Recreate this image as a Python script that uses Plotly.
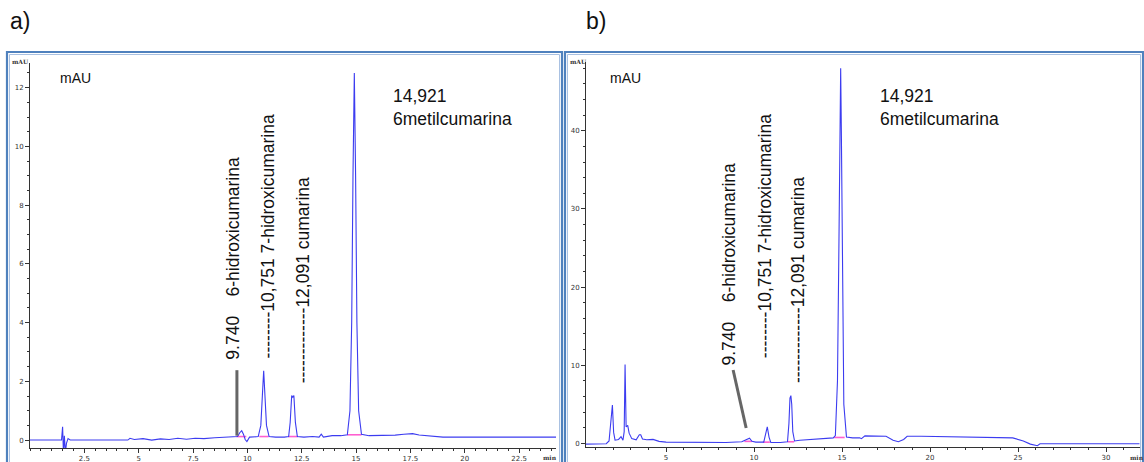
import plotly.graph_objects as go

W, H = 1144, 462

# ---- chromatogram a): retention time (min) vs absorbance (mAU) ----
time_a = [0.0, 1.45, 1.50, 1.54, 1.58, 1.63, 1.68, 1.75, 1.85, 2.0, 4.5, 4.6, 4.8,
          5.2, 5.6, 6.0, 6.4, 6.8, 7.2, 7.6, 8.0, 8.5, 9.0, 9.5, 9.55, 9.65, 9.74,
          9.82, 9.9, 9.98, 10.1, 10.5, 10.62, 10.69, 10.751, 10.81, 10.88, 11.0,
          11.3, 11.7, 11.9, 11.97, 12.04, 12.091, 12.14, 12.21, 12.3, 12.6, 13.0,
          13.3, 13.4, 13.5, 13.9, 14.3, 14.6, 14.72, 14.80, 14.86, 14.921, 14.98,
          15.04, 15.12, 15.25, 15.6, 16.2, 16.8, 17.2, 17.6, 17.9, 18.2, 18.6,
          19.0, 20.0, 21.0, 24.2]
signal_a = [0.0, 0.0, 0.45, -0.45, 0.15, -0.4, -0.1, 0.05, 0.0, 0.0, 0.0, 0.06, 0.02,
            0.05, 0.0, 0.04, 0.02, 0.06, 0.03, 0.06, 0.05, 0.08, 0.1, 0.12, 0.12,
            0.25, 0.32, 0.2, 0.02, -0.05, 0.1, 0.12, 0.5, 1.5, 2.36, 1.5, 0.5, 0.12,
            0.1, 0.1, 0.12, 0.6, 1.52, 1.46, 1.52, 0.6, 0.12, 0.1, 0.12, 0.1, 0.2,
            0.1, 0.15, 0.15, 0.18, 1.0, 4.0, 9.0, 12.5, 9.0, 4.0, 1.0, 0.2, 0.15,
            0.15, 0.17, 0.2, 0.22, 0.17, 0.15, 0.12, 0.1, 0.1, 0.1, 0.1]

# ---- chromatogram b) ----
time_b = [0.45, 1.6, 1.76, 1.86, 1.95, 2.02, 2.1, 2.3, 2.44, 2.55, 2.62, 2.67,
          2.73, 2.82, 2.9, 3.05, 3.3, 3.48, 3.56, 3.66, 3.9, 4.26, 4.6, 5.0, 6.5,
          8.4, 9.3, 9.6, 9.74, 9.88, 10.1, 10.55, 10.65, 10.751, 10.85, 10.95,
          11.5, 11.9, 11.98, 12.04, 12.091, 12.14, 12.2, 12.3, 12.6, 13.5, 14.5,
          14.62, 14.74, 14.82, 14.88, 14.921, 14.96, 15.02, 15.1, 15.25, 15.6, 16.0,
          16.1, 16.3, 17.0, 17.5, 17.9, 18.2, 18.5, 18.7, 19.5, 21.1, 23.0, 24.7,
          25.3, 25.7, 26.1, 26.25, 28.0, 31.9]
signal_b = [-0.1, -0.05, 0.3, 2.6, 4.9, 1.4, 0.4, 0.5, 0.85, 0.4, 1.5, 10.1, 2.1,
            2.3, 1.3, 0.6, 0.45, 1.1, 1.1, 0.55, 0.45, 0.5, 0.25, 0.15, 0.1, 0.1,
            0.2, 0.5, 0.65, 0.25, 0.15, 0.15, 1.0, 2.1, 0.8, 0.12, 0.1, 0.2, 2.5,
            5.8, 6.1, 5.0, 1.5, 0.3, 0.4, 0.5, 0.7, 1.0, 8.0, 25.0, 40.0, 48.0,
            40.0, 20.0, 5.0, 0.8, 0.7, 0.7, 0.6, 0.95, 0.95, 0.9, 0.4, 0.2, 0.5,
            0.9, 0.9, 0.85, 0.75, 0.7, 0.3, -0.1, -0.3, -0.05, -0.05, -0.05]

# integration baselines drawn under the identified peaks (start, end in min)
base_a_start = [9.50, 10.55, 11.88, 14.60]
base_a_end = [9.95, 10.98, 12.32, 15.25]
base_a_level = [0.12, 0.12, 0.12, 0.18]
base_b_start = [9.45, 10.50, 11.92, 14.55]
base_b_end = [9.90, 10.90, 12.28, 15.15]
base_b_level = [0.25, 0.15, 0.2, 0.75]

# peak identification labels (retention time + compound)
peak_rt = [9.740, 10.751, 12.091, 14.921]
label_9740 = "9.740\u00a0\u00a0\u00a0\u00a06-hidroxicumarina"
label_10751 = "--------10,751 7-hidroxicumarina"
label_12091 = "-------------12,091 cumarina"
label_14921 = "14,921<br>6metilcumarina"

# axis ticks
xticks_a = [2.5, 5, 7.5, 10, 12.5, 15, 17.5, 20, 22.5]
yticks_a = [0, 2, 4, 6, 8, 10, 12]
xticks_b = [5, 10, 15, 20, 25, 30]
yticks_b = [0, 10, 20, 30, 40]

LINE = "#3c3cf0"
PINK = "#ff5fd0"
BORDER = "#4f81bd"
FONT = "Liberation Sans, Arial, sans-serif"


def px_x(p):
    return p / W


def px_y(p):
    return 1 - p / H


def segments(starts, ends, levels):
    xs, ys = [], []
    for s, e, l in zip(starts, ends, levels):
        xs += [s, e, None]
        ys += [l, l, None]
    return xs, ys


fig = go.Figure()

pa_x, pa_y = segments(base_a_start, base_a_end, base_a_level)
pb_x, pb_y = segments(base_b_start, base_b_end, base_b_level)

fig.add_trace(go.Scatter(x=pa_x, y=pa_y, mode="lines", xaxis="x", yaxis="y",
                         line=dict(color=PINK, width=1.6), hoverinfo="skip"))
fig.add_trace(go.Scatter(x=time_a, y=signal_a, mode="lines", xaxis="x", yaxis="y",
                         line=dict(color=LINE, width=1.1)))
fig.add_trace(go.Scatter(x=pb_x, y=pb_y, mode="lines", xaxis="x2", yaxis="y2",
                         line=dict(color=PINK, width=1.6), hoverinfo="skip"))
fig.add_trace(go.Scatter(x=time_b, y=signal_b, mode="lines", xaxis="x2", yaxis="y2",
                         line=dict(color=LINE, width=1.1)))

tickfont = dict(family="DejaVu Sans, sans-serif", size=7, color="#333333")


def xaxis(domain, rng, ticks, minor):
    return dict(domain=domain, range=rng, anchor=None, showgrid=False, zeroline=False,
                showline=True, linecolor="#333333", linewidth=1,
                tickmode="array", tickvals=ticks, ticktext=[f"{t:g}" for t in ticks],
                ticks="outside", ticklen=4, tickcolor="#333333", tickfont=tickfont,
                minor=dict(dtick=minor, ticks="outside", ticklen=2, tickcolor="#333333"))


def yaxis(domain, rng, ticks, minor):
    return dict(domain=domain, range=rng, showgrid=False, zeroline=False,
                showline=True, linecolor="#333333", linewidth=1,
                tickmode="array", tickvals=ticks, ticktext=[f"{t:g}" for t in ticks],
                ticks="outside", ticklen=4, tickcolor="#333333", tickfont=tickfont,
                minor=dict(dtick=minor, ticks="outside", ticklen=2, tickcolor="#333333"))


xa = xaxis([px_x(30), px_x(556)], [0, 24.2], xticks_a, 0.5)
xa["anchor"] = "y"
ya = yaxis([px_y(448), px_y(63)], [-0.27, 12.84], yticks_a, 0.5)
ya["anchor"] = "x"
xb = xaxis([px_x(586), px_x(1140)], [0.45, 31.93], xticks_b, 1)
xb["anchor"] = "y2"
yb = yaxis([px_y(447), px_y(62)], [-0.47, 48.8], yticks_b, 2)
yb["anchor"] = "x2"

shapes = []
# panel frames (double blue border)
for x0, x1 in [(7, 562), (565, 1143)]:
    shapes.append(dict(type="rect", xref="paper", yref="paper",
                       x0=px_x(x0), x1=px_x(x1), y0=px_y(480), y1=px_y(52),
                       line=dict(color=BORDER, width=2.2), layer="below"))
    shapes.append(dict(type="rect", xref="paper", yref="paper",
                       x0=px_x(x0 + 2.5), x1=px_x(x1 - 2.5), y0=px_y(480), y1=px_y(54.5),
                       line=dict(color="#a9c1e2", width=1), layer="below"))
# leader lines to the 9.740 peak
shapes.append(dict(type="line", xref="x", yref="y", x0=9.52, x1=9.52, y0=2.38, y1=0.15,
                   line=dict(color="#666666", width=3)))
shapes.append(dict(type="line", xref="x2", yref="y2", x0=8.81, x1=9.55, y0=9.38, y1=1.96,
                   line=dict(color="#666666", width=3)))

lab_font = dict(family=FONT, size=17.5, color="#111111")
ann = []


def rot_label(text, xref, yref, x, y):
    ann.append(dict(text=text, xref=xref, yref=yref, x=x, y=y, textangle=-90,
                    xanchor="center", yanchor="bottom", showarrow=False, font=lab_font))


# panel a labels
rot_label(label_9740, "x", "y", 9.35, 2.66)
rot_label(label_10751, "x", "y", 10.96, 2.72)
rot_label(label_12091, "x", "y", 12.57, 1.87)
# panel b labels
rot_label(label_9740, "x2", "y2", 8.52, 9.64)
rot_label(label_10751, "x2", "y2", 10.63, 10.66)
rot_label(label_12091, "x2", "y2", 12.5, 7.46)

for xp in (391, 878):
    ann.append(dict(text=label_14921, xref="paper", yref="paper", x=px_x(xp), y=px_y(84),
                    xanchor="left", yanchor="top", align="left", showarrow=False,
                    font=lab_font))

for xp, name in ((8, "a)"), (584, "b)")):
    ann.append(dict(text=name, xref="paper", yref="paper", x=px_x(xp), y=px_y(21),
                    xanchor="left", yanchor="middle", showarrow=False,
                    font=dict(family=FONT, size=23, color="#111111")))

for xp in (58, 608):
    ann.append(dict(text="mAU", xref="paper", yref="paper", x=px_x(xp), y=px_y(78),
                    xanchor="left", yanchor="middle", showarrow=False,
                    font=dict(family=FONT, size=14, color="#111111")))

small = dict(family="DejaVu Serif, serif", size=6, color="#333333")
for xp in (10, 568):
    ann.append(dict(text="<b>mAU</b>", xref="paper", yref="paper", x=px_x(xp), y=px_y(61),
                    xanchor="left", yanchor="middle", showarrow=False, font=small))
for xp in (541, 1128):
    ann.append(dict(text="<b>min</b>", xref="paper", yref="paper", x=px_x(xp), y=px_y(457),
                    xanchor="left", yanchor="middle", showarrow=False, font=small))

fig.update_layout(
    width=W, height=H, autosize=False,
    margin=dict(l=0, r=0, t=0, b=0),
    paper_bgcolor="white", plot_bgcolor="white",
    showlegend=False,
    xaxis=xa, yaxis=ya, xaxis2=xb, yaxis2=yb,
    shapes=shapes, annotations=ann,
)

fig.write_html("out.html")
